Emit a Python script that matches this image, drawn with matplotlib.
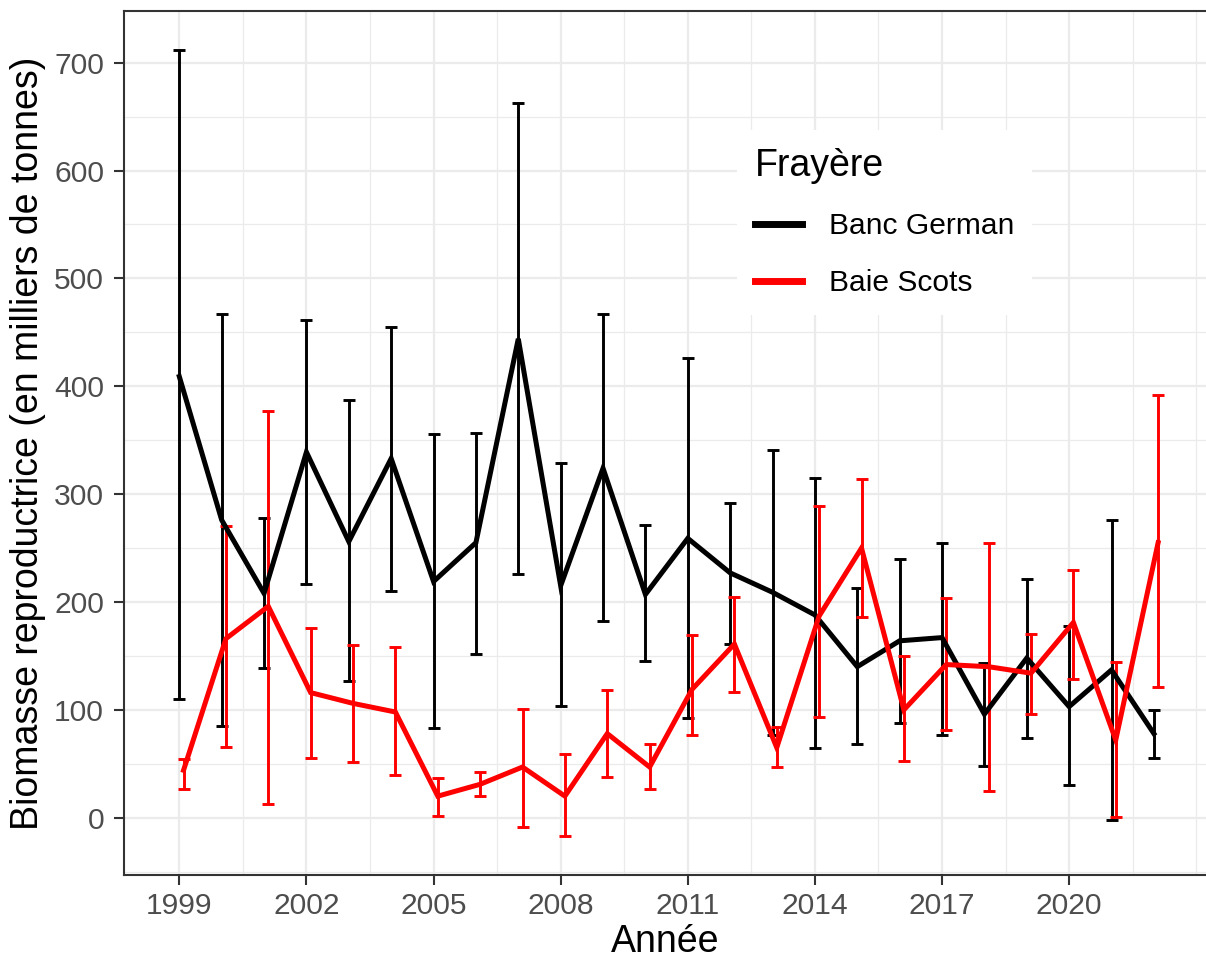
import numpy as np
import matplotlib.pyplot as plt
from matplotlib.ticker import MultipleLocator, FixedLocator

plt.rcParams['font.family'] = ['Liberation Sans', 'DejaVu Sans']

# ---------------------------- data -----------------
years = np.arange(1999, 2023)

german    = [409, 276, 208, 339, 256, 333, 219, 255, 444, 215, 324, 207,
             259, 227, 209, 188, 140, 164, 167, 96, 148, 103, 137, 78]
german_lo = [110, 85, 139, 217, 127, 210, 83, 152, 226, 104, 182, 145,
             92, 161, 77, 65, 68, 88, 77, 48, 74, 30, -2, 55]
german_hi = [712, 467, 278, 461, 387, 455, 356, 357, 663, 329, 467, 271,
             426, 292, 341, 315, 213, 240, 255, 143, 221, 178, 276, 100]

scots    = [44, 166, 196, 116, 106, 98, 20, 31, 47, 20, 78, 47,
            119, 161, 65, 187, 250, 100, 142, 140, 134, 181, 72, 255]
scots_lo = [27, 66, 13, 55, 52, 40, 2, 20, -9, -17, 38, 27,
            77, 117, 47, 93, 186, 53, 81, 25, 96, 129, 1, 121]
scots_hi = [54, 270, 377, 176, 160, 158, 37, 42, 101, 59, 118, 68,
            169, 205, 84, 289, 314, 150, 204, 255, 170, 230, 144, 392]

labels = ['Banc German', 'Baie Scots']
colors = ['black', '#FF0000']
offsets = [0.0, 0.1]   # slight dodge of the second series

GRID = '#EBEBEB'
AXIS = '#333333'
TICK_TXT = '#4D4D4D'

# ---------------------------- figure ----------------------------------------
fig = plt.figure(figsize=(12.06, 9.61), dpi=100)
ax = fig.add_axes([123.5 / 1206, 1 - 875 / 961, 1 - 123.5 / 1206, (875 - 11) / 961])

series = [(german, german_lo, german_hi), (scots, scots_lo, scots_hi)]

for (val, lo, hi), col, off in zip(series, colors, offsets):
    val = np.array(val, float)
    yerr = [val - np.array(lo), np.array(hi) - val]
    ax.errorbar(years + off, val, yerr=yerr, fmt='none', ecolor=col,
                elinewidth=2.1, capsize=4.6, capthick=2.1, zorder=3)

for (val, lo, hi), col, off, lab in zip(series, colors, offsets, labels):
    ax.plot(years + off, val, color=col, lw=3.6, label=lab, zorder=4,
            solid_joinstyle='miter')

ax.set_xlim(1997.683, 2023.23)
ax.set_ylim(-53.1, 747.9)

ax.xaxis.set_major_locator(FixedLocator(np.arange(1999, 2021, 3)))
ax.xaxis.set_minor_locator(FixedLocator(np.arange(2000.5, 2024, 1.5)))
ax.yaxis.set_major_locator(MultipleLocator(100))
ax.yaxis.set_minor_locator(MultipleLocator(50))

ax.grid(which='major', color=GRID, lw=1.6)
ax.grid(which='minor', color=GRID, lw=0.9)
ax.set_axisbelow(True)

for s in ['left', 'bottom', 'top']:
    ax.spines[s].set_color(AXIS)
    ax.spines[s].set_linewidth(1.5)
ax.spines['right'].set_visible(False)

ax.tick_params(which='major', length=7, width=1.5, color=AXIS,
               labelsize=21.6, labelcolor=TICK_TXT)
ax.tick_params(axis='y', pad=7)
ax.tick_params(axis='x', pad=5)
ax.tick_params(which='minor', length=0)

ax.set_xlabel('Année', fontsize=27, labelpad=3)
ax.set_ylabel('Biomasse reproductrice (en milliers de tonnes)', fontsize=27, labelpad=6)

leg = ax.legend(title='Frayère', loc='upper left',
                bbox_to_anchor=(722 / 1206, 1 - 115 / 961), bbox_transform=fig.transFigure,
                fontsize=21.6, title_fontsize=27, alignment='left',
                frameon=True, fancybox=False, edgecolor='none', facecolor='white',
                framealpha=1, handlelength=1.57, handletextpad=0.9,
                labelspacing=0.95, borderpad=0.6)
for line in leg.get_lines():
    line.set_linewidth(5)

fig.savefig('out.png', dpi=100)
